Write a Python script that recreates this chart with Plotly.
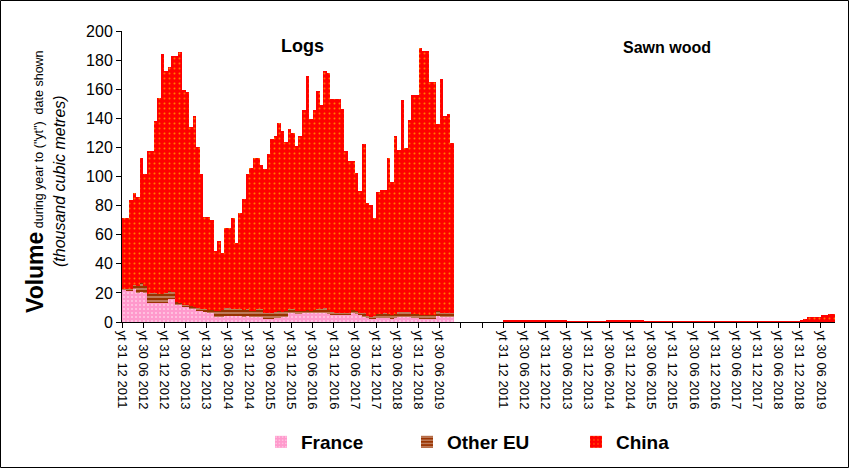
import plotly.graph_objects as go

# ---------------- data (thousand cubic metres, year to date shown) ----------------
tick_labels = ["yt 31 12 2011", "yt 30 06 2012", "yt 31 12 2012", "yt 30 06 2013",
               "yt 31 12 2013", "yt 30 06 2014", "yt 31 12 2014", "yt 30 06 2015",
               "yt 31 12 2015", "yt 30 06 2016", "yt 31 12 2016", "yt 30 06 2017",
               "yt 31 12 2017", "yt 30 06 2018", "yt 31 12 2018", "yt 30 06 2019"]

logs_france = [22.5, 21.5, 21, 22.5, 19.7, 20.6, 19.7, 12.8, 13.3, 13.3, 13.3, 13.3, 13.3,
               15.6, 15.6, 11.9, 11.5, 10.5, 10, 9.2, 8.7, 7.8, 7.3, 6.9, 6.4, 6,
               3.7, 3.7, 3.7, 4.1, 4.1, 4.1, 4.1, 4.1, 3.7, 4.1, 3.7, 3.7, 3.7, 3.7,
               2.3, 2.3, 2.3, 2.7, 2.7, 3.7, 3.2,
               6, 6, 6, 6, 6, 6, 6, 6, 6, 6.4, 6.4, 5.5, 4.6, 4.6, 4.6, 5, 4.6, 4.6,
               6.4, 6, 4.6, 3.7, 2.7, 2.3, 2.3, 2.7, 2.7, 2.7, 2.7, 2.3, 2.7,
               3.2, 3.2, 3.2, 3.2, 2.7, 2.7, 2.3, 2.3, 2.3, 2.3, 2.3, 4.1, 3.7, 3.7, 3.7, 3.7]

logs_other_eu = [0.5, 1.5, 2, 3.1, 5.3, 6, 5, 6.4, 6.4, 6.4, 5.9, 5.9, 6.4, 5.9, 5,
                 1.8, 1.8, 1.4, 1.5, 1.8, 1.8, 1.8, 1.9, 1.8, 1.8, 2.2, 3.6, 3.6, 4.5,
                 5.5, 5.5, 5.1, 4.6, 4.6, 4.5, 4.6, 3.6, 3.6, 5, 5, 3.7, 3.7, 3.7, 4.2,
                 4.6, 3.2, 4.1, 2.7, 2.7, 1.3, 1.3, 1.8, 2.2, 1.8, 2.2, 2.7, 2.8, 3.2,
                 2.7, 2.3, 1.8, 1.8, 1.4, 1.8, 1.8, 1.8, 1.3, 1.8, 2.3, 1.4, 1.4, 1.8,
                 2.8, 2.8, 3.3, 2.8, 2.3, 2.8, 3.7, 3.7, 3.7, 3.7, 2.8, 2.8, 2.3, 2.3,
                 2.3, 2.3, 2.3, 3.2, 2.7, 2.3, 2.3, 2.3]

logs_china = [48.5, 48.5, 61, 63.4, 61, 86.4, 77.3, 98.3, 97.8, 118.3, 134.8, 164.8,
              152.8, 153.5, 162.4, 168.8, 172.2, 147.6, 146.5, 123, 131, 110.4, 92.5,
              63.3, 63.8, 61.8, 41.7, 48.7, 39.4, 55, 55, 62.3, 45.3, 66.3, 76.3, 93,
              98.7, 105.4, 104, 99, 99, 109.5, 119.8, 120.9, 129.2, 124.6, 116.4,
              123.9, 121, 113.7, 120.5, 137.9, 160.8, 131.7, 137.5, 150.1, 139.8,
              162.9, 162.8, 146.1, 146.6, 146.6, 140, 111.1, 104.3, 102.5, 95.1, 83.6,
              116.3, 77.7, 76.7, 67.4, 83.8, 85.2, 84.7, 107.2, 91.4, 122.3, 111.1,
              145.7, 112.7, 131.9, 150.5, 150.5, 183.7, 181.7, 181.7, 160.4, 160.4,
              128.7, 160.6, 135.6, 137, 117]

sawn_france = [0] * 5 + [0.3] * 13 + [0] * 76
sawn_other_eu = [0] * 94
sawn_china = ([1.2] * 5 + [0.9] * 13 + [0.5] * 11 + [1.2] * 11 + [0.5] * 44 +
              [1.2, 2.0, 3.2, 3.2, 3.2, 3.7, 4.6, 5.0, 5.5, 5.5])

# ---------------- layout constants ----------------
SAWN_START = 108          # category slot where the sawn-wood block begins
N_SLOTS = SAWN_START + len(sawn_china)
W, H = 849, 468
L, R, T, B = 122, 14, 31, 146
PW, PH = W - L - R, H - T - B
FONT = "Liberation Sans, Arial, sans-serif"

def px_x(px):
    return (px - L) / PW

def px_y(py):
    return (H - B - py) / PH

logs_x = [i + 0.5 for i in range(len(logs_china))]
sawn_x = [SAWN_START + j + 0.5 for j in range(len(sawn_china))]

styles = {
    "France": dict(color="#FF99CC", pattern=dict(shape=".", bgcolor="#FF99CC",
                                                 fgcolor="#FFFFFF", size=4, solidity=0.2)),
    "Other EU": dict(color="#993300", pattern=dict(shape="-", bgcolor="#993300",
                                                   fgcolor="#FFFFFF", size=4, solidity=0.35)),
    "China": dict(color="#FF0000", pattern=dict(shape=".", bgcolor="#FF0000",
                                                fgcolor="#FFFF00", size=5, solidity=0.12)),
}
legend_ids = {"France": "legend", "Other EU": "legend2", "China": "legend3"}
legend_text_x = {"France": 301, "Other EU": 447, "China": 616}

fig = go.Figure()
series = [("France", logs_france, sawn_france),
          ("Other EU", logs_other_eu, sawn_other_eu),
          ("China", logs_china, sawn_china)]
for name, lv, sv in series:
    st = styles[name]
    fig.add_trace(go.Bar(x=logs_x, y=lv, name=name, legendgroup=name, width=1,
                         legend=legend_ids[name],
                         marker=dict(color=st["color"], pattern=st["pattern"], line=dict(width=0))))
    fig.add_trace(go.Bar(x=sawn_x, y=sv, name=name, legendgroup=name, width=1, showlegend=False,
                         legend=legend_ids[name],
                         marker=dict(color=st["color"], pattern=st["pattern"], line=dict(width=0))))

tickvals = list(range(0, N_SLOTS, 6))
ticktext = []
for v in tickvals:
    if v < SAWN_START and v // 6 < len(tick_labels):
        ticktext.append(tick_labels[v // 6])
    elif v >= SAWN_START and (v - SAWN_START) // 6 < len(tick_labels):
        ticktext.append(tick_labels[(v - SAWN_START) // 6])
    else:
        ticktext.append("")

def legend_cfg(name):
    return dict(orientation="h", x=px_x(legend_text_x[name] - 40), xanchor="left",
                y=px_y(442), yanchor="middle",
                font=dict(size=19, family=FONT, weight="bold"),
                itemwidth=30, bgcolor="rgba(0,0,0,0)")

fig.update_layout(
    width=W, height=H, autosize=False,
    margin=dict(l=L, r=R, t=T, b=B, autoexpand=False),
    paper_bgcolor="white", plot_bgcolor="white",
    barmode="stack", bargap=0,
    font=dict(family=FONT, color="black"),
    showlegend=True,
    legend=legend_cfg("France"),
    legend2=legend_cfg("Other EU"),
    legend3=legend_cfg("China"),
    xaxis=dict(range=[0, N_SLOTS], tickmode="array", tickvals=tickvals, ticktext=ticktext,
               tickangle=90, ticks="outside", ticklen=5, tickcolor="black",
               showline=True, linecolor="black", linewidth=1, showgrid=False, zeroline=False,
               automargin=False, tickfont=dict(size=13, family=FONT)),
    yaxis=dict(range=[0, 200], tickmode="array", tickvals=list(range(0, 201, 20)),
               ticks="outside", ticklen=5, tickcolor="black",
               showline=True, linecolor="black", linewidth=1, showgrid=False, zeroline=False,
               automargin=False, tickfont=dict(size=16, family=FONT)),
)

annotations = [
    dict(text="<b>Logs</b>", x=px_x(302), y=px_y(46), font=dict(size=18)),
    dict(text="<b>Sawn wood</b>", x=px_x(667), y=px_y(47), font=dict(size=16)),
    dict(text="<b>Volume</b><span style='font-size:12.5px'> during year to (\"yt\")  date shown</span>",
         x=px_x(35), y=px_y(182), font=dict(size=23), textangle=-90),
    dict(text="<i>(thousand cubic metres)</i>", x=px_x(60), y=px_y(181),
         font=dict(size=16), textangle=-90),
]
for a in annotations:
    a.update(xref="paper", yref="paper", showarrow=False, xanchor="center", yanchor="middle")
    fig.add_annotation(**a)

fig.add_shape(type="rect", xref="paper", yref="paper",
              x0=px_x(0.5), x1=px_x(W - 0.5), y0=px_y(H - 0.5), y1=px_y(0.5),
              line=dict(color="black", width=1), fillcolor="rgba(0,0,0,0)", layer="above")

fig.write_html("out.html", config={"displayModeBar": False},
               post_script="document.body.style.margin='0';")
